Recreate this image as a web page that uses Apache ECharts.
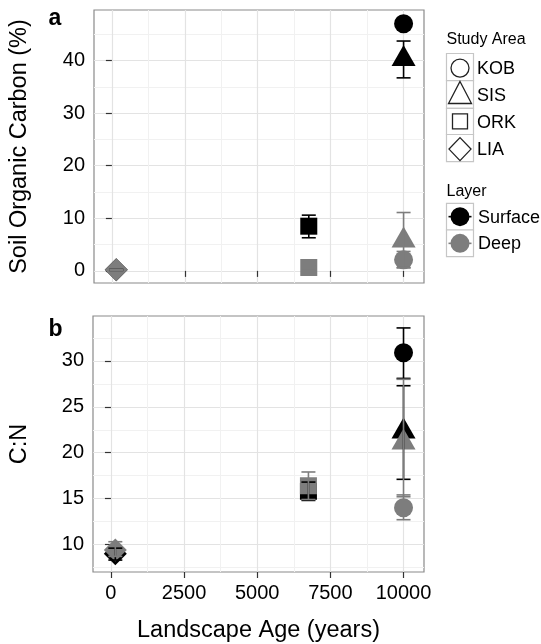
<!DOCTYPE html>
<html>
<head>
<meta charset="utf-8">
<script src="https://cdn.jsdelivr.net/npm/echarts@6/dist/echarts.min.js"></script>
<style>
  html, body { margin: 0; padding: 0; background: #fff; }
  #chart { width: 541px; height: 644px; }
</style>
</head>
<body>
<div id="chart"></div>
<script>
// Study areas, their landscape age (years) and marker shape
const sites = ['KOB', 'SIS', 'ORK', 'LIA'];
const siteAge = [10000, 10000, 6750, 150];
const siteSymbol = ['circle', 'triangle', 'rect', 'diamond'];
const layers = ['Surface', 'Deep'];

// Soil organic carbon (%) — mean, lower and upper error bounds
const socSurface     = [47.0, 40.3, 8.5, 0.2];
const socSurfaceLow  = [46.7, 36.7, 6.3, 0.1];
const socSurfaceHigh = [47.3, 43.7, 10.6, 0.3];
const socDeep        = [2.1, 5.8, 0.65, 0.2];
const socDeepLow     = [0.6, 0.6, 0.2, 0.1];
const socDeepHigh    = [3.7, 11.1, 1.1, 0.3];

// C:N ratio — mean, lower and upper error bounds
const cnSurface     = [30.9, 22.3, 15.8, 9.0];
const cnSurfaceLow  = [28.1, 17.1, 14.8, 8.3];
const cnSurfaceHigh = [33.6, 27.3, 16.8, 9.6];
const cnDeep        = [14.0, 21.1, 16.4, 9.4];
const cnDeepLow     = [12.7, 15.2, 14.9, 8.7];
const cnDeepHigh    = [15.4, 28.0, 17.9, 10.3];

// Axis ticks
const ageTicks = [0, 2500, 5000, 7500, 10000];
const ageMinorTicks = [1250, 3750, 6250, 8750];
const socTicks = [0, 10, 20, 30, 40];
const socMinorTicks = [5, 15, 25, 35, 45];
const cnTicks = [10, 15, 20, 25, 30];
const cnMinorTicks = [7.5, 12.5, 17.5, 22.5, 27.5, 32.5];

const FONT = 'Liberation Sans, Arial, Helvetica, sans-serif';
const BLACK = '#000000';
const GREY = '#7d7d7d';
const TEXT = '#000000';
const TICK_FONT = 20;
const TITLE_FONT = 23.5;

const symbolSize = { circle: 19, triangle: [24, 21], rect: 17, diamond: [23, 23] };
const symbolOffset = { circle: [0, 0], triangle: [0, -3.5], rect: [0, 0], diamond: [0, 0] };

function pointSeries(xi, yi, values, color) {
  return {
    type: 'scatter', xAxisIndex: xi, yAxisIndex: yi, z: 3,
    silent: true, animation: false,
    itemStyle: { color: color, opacity: 1 },
    data: values.map((v, i) => ({
      value: [siteAge[i], v],
      symbol: siteSymbol[i],
      symbolSize: symbolSize[siteSymbol[i]],
      symbolOffset: symbolOffset[siteSymbol[i]]
    }))
  };
}

function errorSeries(xi, yi, low, high, color) {
  return {
    type: 'custom', xAxisIndex: xi, yAxisIndex: yi, z: 4,
    silent: true, animation: false,
    data: siteAge.map((x, i) => [x, low[i], high[i]]),
    encode: { x: 0, y: [1, 2] },
    renderItem(params, api) {
      const x = api.value(0);
      const lo = api.coord([x, api.value(1)]);
      const hi = api.coord([x, api.value(2)]);
      const hw = 7;
      const style = { stroke: color, lineWidth: 1.6, fill: null };
      return {
        type: 'group',
        children: [
          { type: 'line', shape: { x1: lo[0], y1: lo[1], x2: hi[0], y2: hi[1] }, style },
          { type: 'line', shape: { x1: lo[0] - hw, y1: lo[1], x2: lo[0] + hw, y2: lo[1] }, style },
          { type: 'line', shape: { x1: hi[0] - hw, y1: hi[1], x2: hi[0] + hw, y2: hi[1] }, style }
        ]
      };
    }
  };
}

const tickStyle = { color: '#333', width: 1.2 };
function majorAxis(ticks, extra) {
  return Object.assign({
    type: 'value',
    axisLine: { show: false },
    axisTick: { show: true, length: 6, customValues: ticks, lineStyle: tickStyle },
    axisLabel: { show: true, customValues: ticks, fontSize: TICK_FONT, color: TEXT, fontFamily: FONT, margin: 9,
      formatter: v => String(v) },
    splitLine: { show: true, lineStyle: { color: '#e3e3e3', width: 1.2 } },
    nameTextStyle: { fontSize: TITLE_FONT, color: TEXT, fontFamily: FONT },
    nameLocation: 'middle'
  }, extra);
}
function minorAxis(ticks, extra) {
  return Object.assign({
    type: 'value',
    axisLine: { show: false },
    axisTick: { show: false, customValues: ticks },
    axisLabel: { show: false, customValues: ticks },
    splitLine: { show: true, lineStyle: { color: '#f1f1f1', width: 1 } }
  }, extra);
}

const xMin = -613, xMax = 10700;
const socMin = -2.3, socMax = 49.6;
const cnMin = 7.0, cnMax = 34.9;

// Legend drawing helpers
const LX = 446.5, LW = 27, KX = LX + LW / 2;
const areaRows = [53.5, 80.7, 108.3, 134.5, 161.7];
const layerRows = [203.3, 230, 256.7];
const keyStroke = { stroke: '#222', lineWidth: 1.3, fill: 'none' };
const legend = [];
function boxes(rows) {
  for (let i = 0; i < rows.length - 1; i++) {
    legend.push({ type: 'rect', shape: { x: LX, y: rows[i], width: LW, height: rows[i + 1] - rows[i] },
      style: { fill: '#fff', stroke: '#c6c6c6', lineWidth: 1.2 } });
  }
}
function label(text, x, y, size, weight) {
  legend.push({ type: 'text', x: x, y: y, style: { text: text, fill: TEXT, font: (weight || 'normal') + ' ' + size + 'px ' + FONT, verticalAlign: 'middle', align: 'left' } });
}
boxes(areaRows);
boxes(layerRows);
const mid = (r, i) => (r[i] + r[i + 1]) / 2;
{
  let cy = mid(areaRows, 0) + 1;
  legend.push({ type: 'circle', shape: { cx: KX, cy: cy, r: 9 }, style: keyStroke });
  cy = mid(areaRows, 1);
  legend.push({ type: 'polygon', shape: { points: [[KX, cy - 13], [KX + 11.5, cy + 9], [KX - 11.5, cy + 9]] }, style: keyStroke });
  cy = mid(areaRows, 2);
  legend.push({ type: 'rect', shape: { x: KX - 7.5, y: cy - 7.5, width: 15, height: 15 }, style: keyStroke });
  cy = mid(areaRows, 3) + 1;
  legend.push({ type: 'polygon', shape: { points: [[KX, cy - 11.5], [KX + 11, cy], [KX, cy + 11.5], [KX - 11, cy]] }, style: keyStroke });
  const colors = [BLACK, GREY];
  for (let i = 0; i < 2; i++) {
    cy = mid(layerRows, i);
    legend.push({ type: 'circle', shape: { cx: KX, cy: cy, r: 9.5 }, style: { fill: colors[i] } });
    legend.push({ type: 'line', shape: { x1: LX + 2, y1: cy, x2: LX + LW - 2, y2: cy }, style: { stroke: colors[i], lineWidth: 1.6 } });
  }
}
label('Study Area', 446.5, 40, 16);
sites.forEach((s, i) => label(s, 477, mid(areaRows, i) + 2, 18));
label('Layer', 446.5, 191.5, 16);
layers.forEach((s, i) => label(s, 478, mid(layerRows, i) + 1, 18));
label('a', 48.5, 18.5, 23, 'bold');
label('b', 48.5, 329.5, 23, 'bold');

const chart = echarts.init(document.getElementById('chart'), null, { renderer: 'canvas' });
chart.setOption({
  animation: false,
  backgroundColor: '#ffffff',
  grid: [
    { left: 86, top: 10, width: 338, height: 273, show: true, borderColor: '#8a8a8a', borderWidth: 1.2, backgroundColor: 'transparent' },
    { left: 86, top: 316, width: 338, height: 267, show: true, borderColor: '#8a8a8a', borderWidth: 1.2, backgroundColor: 'transparent' }
  ],
  xAxis: [
    majorAxis(ageTicks, { gridIndex: 0, min: xMin, max: xMax,
      axisLabel: { show: false, customValues: ageTicks } }),
    majorAxis(ageTicks, { gridIndex: 1, min: xMin, max: xMax, name: 'Landscape Age (years)', nameGap: 47,
      axisLabel: { show: true, customValues: ageTicks, fontSize: TICK_FONT, color: TEXT, fontFamily: FONT, margin: 11,
        formatter: v => String(v) } }),
    minorAxis(ageMinorTicks, { gridIndex: 0, min: xMin, max: xMax }),
    minorAxis(ageMinorTicks, { gridIndex: 1, min: xMin, max: xMax })
  ],
  yAxis: [
    majorAxis(socTicks, { gridIndex: 0, min: socMin, max: socMax, name: 'Soil Organic Carbon (%)', nameGap: 62 }),
    majorAxis(cnTicks, { gridIndex: 1, min: cnMin, max: cnMax, name: 'C:N', nameGap: 61 }),
    minorAxis(socMinorTicks, { gridIndex: 0, min: socMin, max: socMax, position: 'left' }),
    minorAxis(cnMinorTicks, { gridIndex: 1, min: cnMin, max: cnMax, position: 'left' })
  ],
  series: [
    pointSeries(0, 0, socSurface, BLACK),
    pointSeries(0, 0, socDeep, GREY),
    errorSeries(0, 0, socSurfaceLow, socSurfaceHigh, BLACK),
    errorSeries(0, 0, socDeepLow, socDeepHigh, GREY),
    pointSeries(1, 1, cnSurface, BLACK),
    pointSeries(1, 1, cnDeep, GREY),
    errorSeries(1, 1, cnSurfaceLow, cnSurfaceHigh, BLACK),
    errorSeries(1, 1, cnDeepLow, cnDeepHigh, GREY)
  ],
  graphic: { elements: legend }
});
</script>
</body>
</html>
